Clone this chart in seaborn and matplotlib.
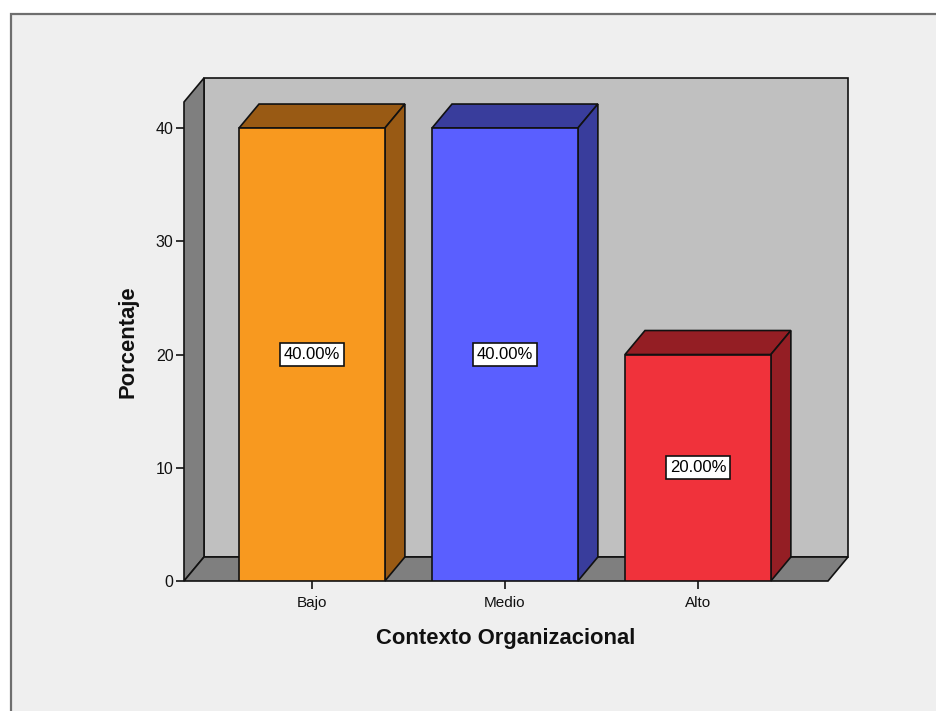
import matplotlib
matplotlib.use("Agg")
import matplotlib.pyplot as plt
from matplotlib.patches import Polygon, Rectangle
import pandas as pd
import seaborn as sns

# Data
categories = ["Bajo", "Medio", "Alto"]
percentages = [40.0, 40.0, 20.0]
value_labels = ["40.00%", "40.00%", "20.00%"]
yticks = [0, 10, 20, 30, 40]

# Colours: front face, top/side face
front_colors = ["#F8991F", "#5A5FFF", "#F0323B"]
shade_colors = ["#995A14", "#393D9C", "#941E24"]

sns.set_theme(style="white")
plt.rcParams["font.family"] = ["Liberation Sans", "DejaVu Sans"]

df = pd.DataFrame({"Contexto Organizacional": categories, "Porcentaje": percentages})

fig = plt.figure(figsize=(9.36, 7.11), dpi=100)
fig.patch.set_facecolor("white")
# framed panel background
fig.add_artist(Rectangle((10.5 / 936, -0.05), 1.1, (711 - 13.5) / 711 + 0.05,
                         transform=fig.transFigure, facecolor="#EFEFEF",
                         edgecolor="#6E6E6E", linewidth=1.6, zorder=-5))

ax = fig.add_axes([184 / 936, 130 / 711, 644 / 936, 479 / 711])
ax.set_facecolor("none")

xmin, xmax = -0.663, 2.674
ymin, ymax = 0.0, 42.3
# depth offset of the pseudo-3D box, in data units
dx, dy = 0.1036, 2.12
lw = 1.2

sns.barplot(data=df, x="Contexto Organizacional", y="Porcentaje",
            hue="Contexto Organizacional", palette=front_colors, saturation=1,
            width=0.756, edgecolor="#111111", linewidth=lw,
            legend=False, ax=ax, zorder=3)

ax.set_xlim(xmin, xmax)
ax.set_ylim(ymin, ymax)

wall_kw = dict(edgecolor="#111111", linewidth=lw, clip_on=False, joinstyle="miter")
# back wall
ax.add_patch(Rectangle((xmin + dx, ymin + dy), xmax - xmin, ymax - ymin,
                       facecolor="#C0C0C0", zorder=0.5, **wall_kw))
# left wall
ax.add_patch(Polygon([(xmin, ymin), (xmin, ymax), (xmin + dx, ymax + dy), (xmin + dx, ymin + dy)],
                     closed=True, facecolor="#7F7F7F", zorder=0.6, **wall_kw))
# floor
ax.add_patch(Polygon([(xmin, ymin), (xmax, ymin), (xmax + dx, ymin + dy), (xmin + dx, ymin + dy)],
                     closed=True, facecolor="#7F7F7F", zorder=0.6, **wall_kw))

# top and side faces of each bar, plus value labels
for bar, shade, label in zip(ax.patches[:len(categories)], shade_colors, value_labels):
    x0 = bar.get_x()
    w = bar.get_width()
    h = bar.get_height()
    x1 = x0 + w
    top = Polygon([(x0, h), (x1, h), (x1 + dx, h + dy), (x0 + dx, h + dy)], closed=True,
                  facecolor=shade, edgecolor="#111111", linewidth=lw, zorder=2.5, clip_on=False)
    side = Polygon([(x1, 0), (x1, h), (x1 + dx, h + dy), (x1 + dx, dy)], closed=True,
                   facecolor=shade, edgecolor="#111111", linewidth=lw, zorder=2.5, clip_on=False)
    ax.add_patch(top)
    ax.add_patch(side)
    ax.text(x0 + w / 2, h / 2, label, ha="center", va="center", fontsize=12,
            color="black", zorder=5,
            bbox=dict(boxstyle="square,pad=0.25", facecolor="white",
                      edgecolor="#111111", linewidth=lw))

for s in ax.spines.values():
    s.set_visible(False)

ax.set_yticks(yticks)
ax.set_yticklabels([str(t) for t in yticks])
ax.tick_params(axis="y", left=True, length=6, width=1.2, color="#111111",
               labelsize=11.5, pad=1.5, labelcolor="#111111")
ax.tick_params(axis="x", bottom=True, length=6, width=1.2, color="#111111",
               labelsize=11, pad=5, labelcolor="#111111")

ax.set_xlabel("Contexto Organizacional", fontsize=15.8, fontweight="bold", color="#111111")
ax.set_ylabel("Porcentaje", fontsize=15.8, fontweight="bold", color="#111111")
ax.xaxis.label.set_va("top")
ax.xaxis.set_label_coords(0.5, -0.099)
ax.yaxis.label.set_rotation_mode("default")
ax.yaxis.label.set_va("center")
ax.yaxis.set_label_coords(-0.087, 0.5)

fig.savefig("out.png", dpi=100, facecolor=fig.get_facecolor())
